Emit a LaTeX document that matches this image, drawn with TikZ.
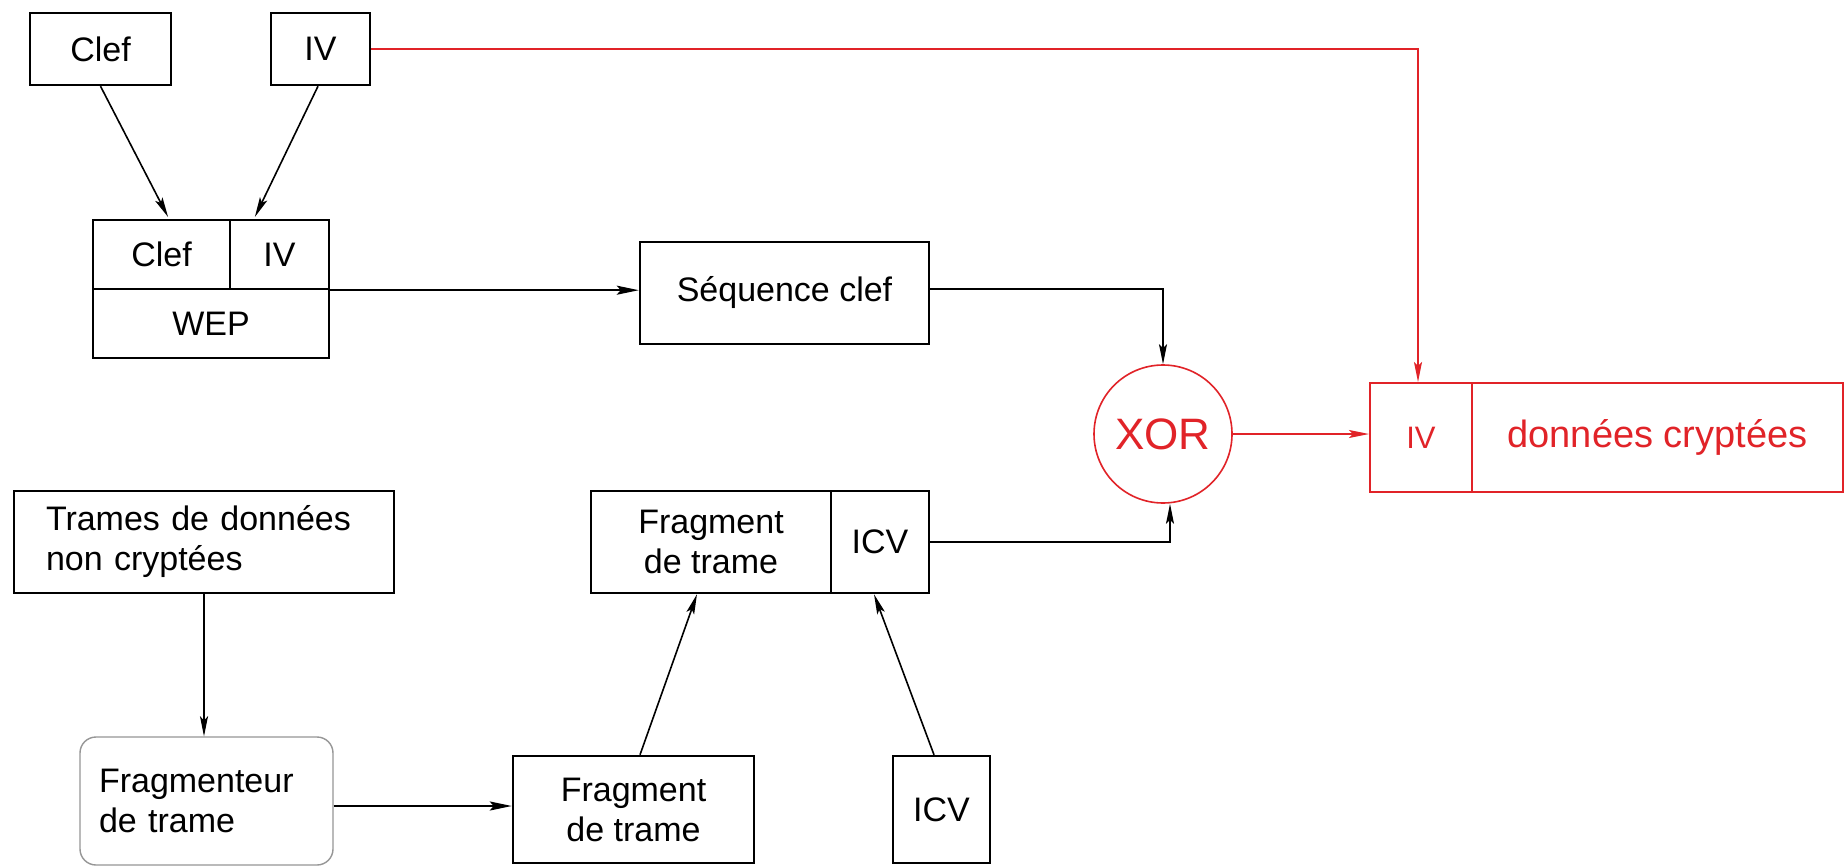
\documentclass[tikz,border=0pt]{standalone}
\usepackage{fontspec}
\setmainfont{Liberation Sans}
\usetikzlibrary{arrows.meta}
\definecolor{wepred}{RGB}{225,35,40}
\definecolor{softgray}{RGB}{150,150,150}
\begin{document}
\begin{tikzpicture}[x=1pt,y=-1pt,
  every node/.style={font=\fontsize{34}{40}\selectfont},
  box/.style n args={2}{draw, line width=2.4pt, inner sep=0pt, minimum width=#1pt, minimum height=#2pt},
  redbox/.style n args={2}{draw=wepred, text=wepred, line width=2pt, inner sep=0pt, minimum width=#1pt, minimum height=#2pt},
  arr/.style={line width=1.6pt, -{Stealth[length=20pt,width=8pt,inset=4pt]}},
  redarr/.style={draw=wepred, line width=1.4pt, -{Stealth[length=20pt,width=8pt,inset=4pt]}, color=wepred},
  thickarr/.style={line width=2.4pt, -{Stealth[length=22pt,width=9pt,inset=4pt]}}
]
\fill[white] (0,0) rectangle (1847,867);
\useasboundingbox (0,0) rectangle (1847,867);

% top inputs
\node[box={141}{72}] (clef) at (100.5,49) {Clef};
\node[box={99}{72}] (iv) at (320.5,49) {IV};

% WEP block
\node[box={137}{69}] (wepclef) at (161.5,254.5) {Clef};
\node[box={99}{69}] (wepiv) at (279.5,254.5) {IV};
\node[box={236}{69}] (wep) at (211,323.5) {WEP};

% keystream
\node[box={289}{102}] (seq) at (784.5,293) {Séquence clef};

% XOR
\node[draw=wepred, text=wepred, line width=1.6pt, circle, inner sep=0pt, minimum size=138pt,
  font=\fontsize{44}{50}\selectfont] (xor) at (1163,434) {XOR};

% encrypted output
\node[redbox={102}{109}, font=\fontsize{31}{36}\selectfont] (div) at (1421,437.5) {IV};
\node[redbox={371}{109}, font=\fontsize{38}{44}\selectfont] (dat) at (1657.5,437.5) {données cryptées};

% plaintext
\node[box={380}{102}, text width=316pt, align=left] (trames) at (204,542) {Trames de données\\non cryptées};

% fragment + ICV
\node[box={240}{102}, align=center] (frag) at (711,542) {Fragment\\de trame};
\node[box={98}{102}] (icv) at (880,542) {ICV};

% fragmenter
\node[draw=softgray, line width=1.4pt, rounded corners=16pt, inner sep=0pt,
  minimum width=253pt, minimum height=128pt, text width=215pt, align=left] (fragm) at (206.5,801) {Fragmenteur\\de trame};
\node[box={241}{107}, align=center] (frag2) at (633.5,809.5) {Fragment\\de trame};
\node[box={97}{107}] (icv2) at (941.5,809.5) {ICV};

% connectors
\draw[arr, shorten >=2pt] (clef.south) -- ([xshift=7.5pt]wepclef.north);
\draw[arr, shorten >=2pt] ([xshift=-2.5pt]iv.south) -- ([xshift=-25.5pt]wepiv.north);
\draw[thickarr] (wepiv.south east) -- (wepiv.south east -| seq.west);
\draw[arr] ([yshift=4pt]seq.east) -| (xor.north);
\draw[arr] (icv.east) -| ([xshift=7pt]xor.south);
\draw[redarr] (xor.east) -- (xor.east -| div.west);
\draw[redarr] (iv.east) -| ([xshift=-3pt]div.north);
\draw[arr] (trames.south) -- (trames.south |- fragm.north);
\draw[thickarr] ([yshift=-5pt]fragm.east) -- ([yshift=-5pt]fragm.east -| frag2.west);
\draw[arr] ([xshift=6.5pt]frag2.north) -- ([xshift=-14pt]frag.south);
\draw[arr] ([xshift=-7.5pt]icv2.north) -- ([xshift=-6pt]icv.south);
\end{tikzpicture}
\end{document}
